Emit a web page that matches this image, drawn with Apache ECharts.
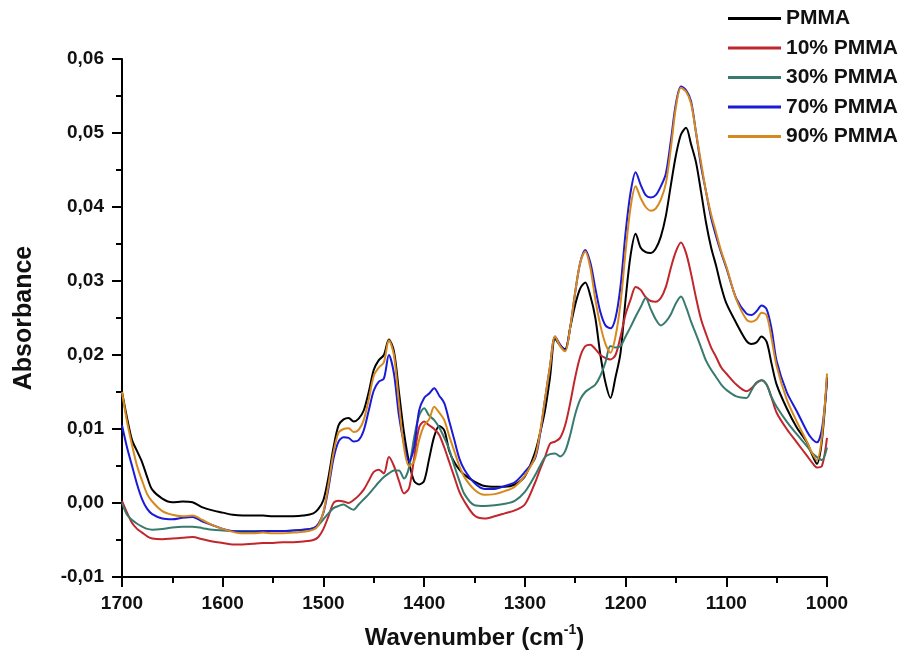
<!DOCTYPE html>
<html>
<head>
<meta charset="utf-8">
<script src="https://cdn.jsdelivr.net/npm/echarts@6/dist/echarts.min.js"></script>
<style>
html,body{margin:0;padding:0;background:#fff;}
#chart{width:905px;height:661px;}
</style>
</head>
<body>
<div id="chart"></div>
<script>
// Wavenumbers (cm-1)
var wavenumbers = [
1700,1695,1690,1685,1680,1675,1670,1660,1650,1640,
1630,1620,1610,1600,1590,1580,1570,1560,1550,1540,
1530,1520,1510,1505,1500,1495,1490,1485,1480,1475,
1470,1465,1460,1455,1450,1445,1440,1435,1430,1425,
1420,1415,1410,1405,1400,1395,1390,1385,1380,1375,
1370,1365,1360,1350,1340,1330,1320,1310,1300,1290,
1285,1280,1275,1270,1265,1260,1255,1250,1245,1240,
1235,1230,1225,1220,1215,1210,1205,1200,1195,1190,
1185,1180,1175,1170,1165,1160,1155,1150,1145,1140,
1135,1130,1125,1120,1115,1110,1105,1100,1090,1080,
1075,1070,1065,1060,1055,1050,1040,1030,1020,1015,
1010,1005,1000];

var seriesNames = ['PMMA', '10% PMMA', '30% PMMA', '70% PMMA', '90% PMMA'];

var pmma = [
0.0150,0.0115,0.0085,0.0070,0.0055,0.0035,0.0018,0.0006,0.0001,0.0002,
0.0001,-0.0006,-0.0010,-0.0013,-0.0016,-0.0017,-0.0017,-0.0017,-0.0018,-0.0018,
-0.0018,-0.0017,-0.0014,-0.0008,0.0004,0.0035,0.0075,0.0105,0.0113,0.0115,
0.0110,0.0114,0.0125,0.0150,0.0180,0.0193,0.0200,0.0221,0.0205,0.0150,
0.0095,0.0055,0.0030,0.0025,0.0030,0.0060,0.0090,0.0104,0.0098,0.0070,
0.0055,0.0045,0.0038,0.0029,0.0023,0.0022,0.0022,0.0025,0.0036,0.0068,
0.0094,0.0125,0.0170,0.0222,0.0213,0.0208,0.0237,0.0268,0.0290,0.0298,
0.0280,0.0250,0.0200,0.0163,0.0142,0.0170,0.0203,0.0275,0.0335,0.0364,
0.0345,0.0339,0.0338,0.0344,0.0360,0.0388,0.0430,0.0470,0.0498,0.0507,
0.0485,0.0460,0.0420,0.0378,0.0345,0.0320,0.0292,0.0270,0.0243,0.0219,
0.0215,0.0217,0.0225,0.0218,0.0188,0.0160,0.0128,0.0102,0.0082,0.0066,
0.0053,0.0085,0.0170];

var pmma10 = [
0.0003,-0.0013,-0.0027,-0.0035,-0.0040,-0.0045,-0.0048,-0.0049,-0.0048,-0.0047,
-0.0046,-0.0049,-0.0052,-0.0054,-0.0056,-0.0056,-0.0055,-0.0054,-0.0054,-0.0053,
-0.0053,-0.0052,-0.0050,-0.0046,-0.0035,-0.0018,0.0000,0.0003,0.0002,0.0000,
0.0004,0.0010,0.0018,0.0030,0.0042,0.0045,0.0040,0.0062,0.0050,0.0030,
0.0013,0.0020,0.0060,0.0102,0.0110,0.0105,0.0100,0.0092,0.0075,0.0055,
0.0035,0.0015,0.0002,-0.0017,-0.0021,-0.0018,-0.0014,-0.0010,-0.0002,0.0027,
0.0045,0.0062,0.0080,0.0083,0.0088,0.0105,0.0135,0.0170,0.0198,0.0212,
0.0214,0.0208,0.0200,0.0196,0.0194,0.0200,0.0225,0.0255,0.0275,0.0292,
0.0288,0.0278,0.0273,0.0272,0.0277,0.0292,0.0318,0.0340,0.0352,0.0338,
0.0310,0.0277,0.0248,0.0228,0.0210,0.0197,0.0183,0.0175,0.0160,0.0151,
0.0155,0.0162,0.0166,0.0160,0.0142,0.0122,0.0100,0.0082,0.0064,0.0055,
0.0048,0.0050,0.0088];

var pmma30 = [
0.0000,-0.0016,-0.0023,-0.0028,-0.0032,-0.0035,-0.0036,-0.0035,-0.0033,-0.0032,
-0.0032,-0.0034,-0.0036,-0.0037,-0.0038,-0.0038,-0.0038,-0.0038,-0.0038,-0.0038,
-0.0037,-0.0036,-0.0034,-0.0030,-0.0022,-0.0014,-0.0007,-0.0004,-0.0002,-0.0006,
-0.0009,-0.0002,0.0005,0.0012,0.0020,0.0028,0.0035,0.0040,0.0044,0.0044,
0.0033,0.0048,0.0088,0.0118,0.0128,0.0118,0.0112,0.0102,0.0088,0.0072,
0.0050,0.0030,0.0012,-0.0003,-0.0004,-0.0003,-0.0001,0.0003,0.0015,0.0037,
0.0050,0.0062,0.0066,0.0067,0.0063,0.0070,0.0092,0.0120,0.0140,0.0150,
0.0155,0.0160,0.0172,0.0190,0.0212,0.0210,0.0212,0.0225,0.0238,0.0252,
0.0265,0.0277,0.0262,0.0248,0.0240,0.0245,0.0255,0.0270,0.0279,0.0265,
0.0245,0.0228,0.0210,0.0192,0.0180,0.0170,0.0160,0.0153,0.0144,0.0142,
0.0152,0.0163,0.0166,0.0160,0.0143,0.0130,0.0110,0.0093,0.0077,0.0068,
0.0062,0.0058,0.0075];

var pmma70 = [
0.0105,0.0075,0.0050,0.0025,0.0005,-0.0008,-0.0015,-0.0021,-0.0022,-0.0020,
-0.0019,-0.0025,-0.0030,-0.0035,-0.0038,-0.0039,-0.0039,-0.0038,-0.0038,-0.0038,
-0.0037,-0.0036,-0.0034,-0.0028,-0.0013,0.0020,0.0060,0.0083,0.0089,0.0088,
0.0083,0.0085,0.0098,0.0125,0.0152,0.0164,0.0168,0.0200,0.0175,0.0118,
0.0080,0.0056,0.0075,0.0125,0.0142,0.0148,0.0155,0.0145,0.0135,0.0110,
0.0085,0.0060,0.0045,0.0027,0.0019,0.0019,0.0023,0.0028,0.0042,0.0060,
0.0092,0.0140,0.0185,0.0225,0.0214,0.0206,0.0237,0.0285,0.0325,0.0342,
0.0325,0.0290,0.0258,0.0240,0.0236,0.0250,0.0293,0.0365,0.0420,0.0447,
0.0430,0.0416,0.0413,0.0416,0.0428,0.0445,0.0490,0.0540,0.0563,0.0558,
0.0543,0.0500,0.0455,0.0420,0.0385,0.0360,0.0338,0.0318,0.0276,0.0256,
0.0254,0.0259,0.0267,0.0262,0.0235,0.0192,0.0150,0.0124,0.0097,0.0087,
0.0082,0.0100,0.0165];

var pmma90 = [
0.0150,0.0110,0.0078,0.0050,0.0030,0.0012,0.0002,-0.0011,-0.0016,-0.0018,
-0.0017,-0.0023,-0.0030,-0.0035,-0.0039,-0.0041,-0.0041,-0.0040,-0.0041,-0.0041,
-0.0040,-0.0039,-0.0036,-0.0030,-0.0012,0.0025,0.0068,0.0095,0.0100,0.0101,
0.0096,0.0099,0.0112,0.0140,0.0172,0.0183,0.0190,0.0220,0.0200,0.0135,
0.0075,0.0050,0.0056,0.0085,0.0105,0.0113,0.0130,0.0122,0.0112,0.0090,
0.0070,0.0050,0.0035,0.0018,0.0011,0.0012,0.0016,0.0022,0.0037,0.0062,
0.0095,0.0140,0.0185,0.0225,0.0212,0.0205,0.0237,0.0285,0.0325,0.0340,
0.0318,0.0275,0.0240,0.0215,0.0203,0.0225,0.0270,0.0340,0.0400,0.0428,
0.0412,0.0400,0.0395,0.0398,0.0410,0.0432,0.0480,0.0535,0.0561,0.0556,
0.0540,0.0500,0.0460,0.0420,0.0390,0.0365,0.0340,0.0320,0.0275,0.0248,
0.0245,0.0248,0.0257,0.0254,0.0222,0.0185,0.0140,0.0110,0.0083,0.0068,
0.0058,0.0090,0.0175];

var seriesValues = [pmma, pmma10, pmma30, pmma70, pmma90];
var seriesColors = ['#000000', '#c0262b', '#387b6e', '#1a1ad8', '#d68a1e'];

var yTickMin = -0.01, yTickMax = 0.06, yTickStep = 0.01;
var xTickMin = 1000, xTickMax = 1700, xTickStep = 100;

var FONT = '"Liberation Sans", Arial, Helvetica, sans-serif';

function pairs(vals) {
  return wavenumbers.map(function (w, i) { return [w, vals[i]]; });
}

var chart = echarts.init(document.getElementById('chart'), null, { renderer: 'canvas' });

var series = seriesNames.map(function (name, i) {
  return {
    name: name,
    type: 'line',
    data: pairs(seriesValues[i]),
    showSymbol: false,
    symbol: 'none',
    smooth: 0.3,
    lineStyle: { color: seriesColors[i], width: 2 },
    itemStyle: { color: seriesColors[i] },
    z: 2 + i
  };
});

chart.setOption({
  animation: false,
  backgroundColor: '#ffffff',
  grid: { left: 122, right: 78, top: 59, bottom: 84, containLabel: false },
  legend: {
    orient: 'vertical',
    left: 728,
    top: 8,
    padding: 0,
    icon: 'rect',
    itemWidth: 53,
    itemHeight: 3,
    itemGap: 8.5,
    data: seriesNames,
    textStyle: { fontFamily: FONT, fontWeight: 'bold', fontSize: 21, lineHeight: 20, color: '#111' }
  },
  xAxis: {
    type: 'value',
    inverse: true,
    min: xTickMin,
    max: xTickMax,
    interval: xTickStep,
    name: '{a|Wavenumber (cm}{s|-1}{a|)}',
    nameLocation: 'middle',
    nameGap: 45,
    nameTextStyle: {
      rich: {
        a: { fontFamily: FONT, fontWeight: 'bold', fontSize: 24, color: '#111', verticalAlign: 'bottom', lineHeight: 28 },
        s: { fontFamily: FONT, fontWeight: 'bold', fontSize: 14, color: '#111', verticalAlign: 'bottom', padding: [0, 0, 13, 0], lineHeight: 16 }
      }
    },
    axisLine: { show: true, onZero: false, lineStyle: { color: '#000', width: 2 } },
    axisTick: { show: true, inside: false, length: 10, lineStyle: { color: '#000', width: 2 } },
    minorTick: { show: true, splitNumber: 2, length: 6, lineStyle: { color: '#000', width: 2 } },
    splitLine: { show: false },
    axisLabel: {
      margin: 17, fontFamily: FONT, fontWeight: 'bold', fontSize: 19, color: '#111',
      formatter: function (v) { return String(Math.round(v)); }
    }
  },
  yAxis: {
    type: 'value',
    min: yTickMin,
    max: yTickMax,
    interval: yTickStep,
    name: 'Absorbance',
    nameLocation: 'middle',
    nameRotate: 90,
    nameGap: 85,
    nameTextStyle: { fontFamily: FONT, fontWeight: 'bold', fontSize: 25, color: '#111' },
    axisLine: { show: true, onZero: false, lineStyle: { color: '#000', width: 2 } },
    axisTick: { show: true, inside: false, length: 10, lineStyle: { color: '#000', width: 2 } },
    minorTick: { show: true, splitNumber: 2, length: 6, lineStyle: { color: '#000', width: 2 } },
    splitLine: { show: false },
    axisLabel: {
      margin: 18, fontFamily: FONT, fontWeight: 'bold', fontSize: 19, color: '#111',
      formatter: function (v) { return (Math.round(v * 100) / 100).toFixed(2).replace('.', ','); }
    }
  },
  series: series
});
</script>
</body>
</html>
